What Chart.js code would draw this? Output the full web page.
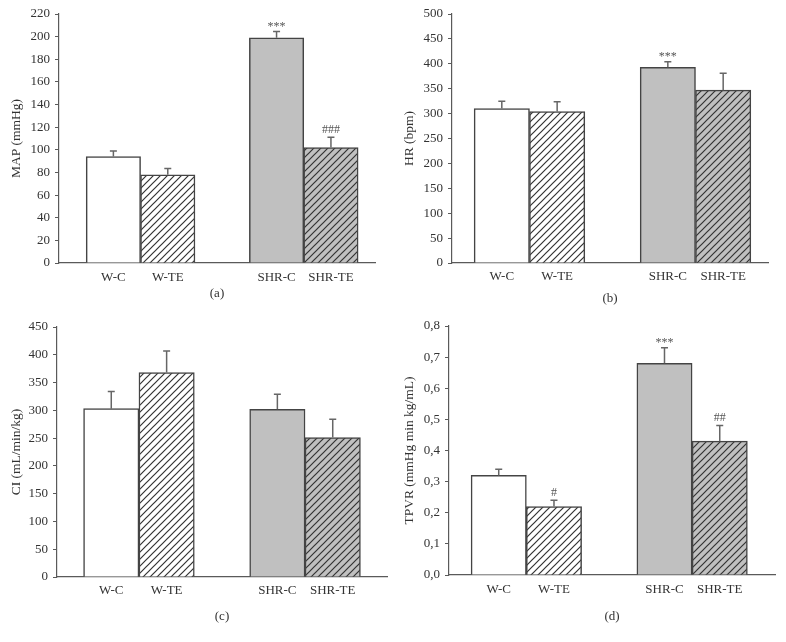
<!DOCTYPE html>
<html>
<head>
<meta charset="utf-8">
<script src="https://cdn.jsdelivr.net/npm/chart.js@4.4.1/dist/chart.umd.min.js"></script>
<style>
	html, body { margin: 0; padding: 0; background: #fff; }
	#wrap { position: relative; width: 786px; height: 642px; }
	#wrap canvas { position: absolute; }
</style>
</head>
<body>
<div id="wrap">
	<canvas id="chartA" width="393" height="321" style="left:0;top:0"></canvas>
	<canvas id="chartB" width="393" height="321" style="left:393px;top:0"></canvas>
	<canvas id="chartC" width="393" height="321" style="left:0;top:321px"></canvas>
	<canvas id="chartD" width="393" height="321" style="left:393px;top:321px"></canvas>
</div>
<script>
'use strict'

const groups = ['W-C', 'W-TE', 'SHR-C', 'SHR-TE'];

const mapValues = [94, 78, 199, 102];
const mapErrors = [5, 5.5, 5.5, 9];
const mapMarks = ['', '', '***', '###'];

const hrValues = [310, 304, 393, 347];
const hrErrors = [15, 20, 11, 34];
const hrMarks = ['', '', '***', ''];

const ciValues = [303, 368, 302, 251];
const ciErrors = [31, 39, 27, 33];
const ciMarks = ['', '', '', ''];

const tpvrValues = [0.32, 0.22, 0.68, 0.43];
const tpvrErrors = [0.02, 0.02, 0.05, 0.05];
const tpvrMarks = ['', '#', '***', '##'];

Chart.defaults.font.family = '"Liberation Serif", "Times New Roman", serif';
Chart.defaults.font.size = 13;
Chart.defaults.color = '#333';

const axisColor = '#5a5a5a';
const edgeColor = '#444';
const grey = '#c0c0c0';

// gap of one bar between the two groups
function slot(i){
	return i < 2 ? i + 1 : i + 2;
}

function hatch(ctx, bg){
	const s = 7;
	const c = document.createElement('canvas');
	c.width = s;
	c.height = s;
	const g = c.getContext('2d');
	g.fillStyle = bg;
	g.fillRect(0, 0, s, s);
	g.strokeStyle = '#333';
	g.lineWidth = 1.2;
	g.beginPath();
	g.moveTo(0, s); g.lineTo(s, 0);
	g.moveTo(-1, 1); g.lineTo(1, -1);
	g.moveTo(s - 1, s + 1); g.lineTo(s + 1, s - 1);
	g.stroke();
	return ctx.createPattern(c, 'repeat');
}

const errorBars = {
	id: 'errorBars',
	afterDatasetsDraw(chart, args, opts){
		const ctx = chart.ctx;
		const yScale = chart.scales.y;
		const meta = chart.getDatasetMeta(0);
		ctx.save();
		meta.data.forEach(function(bar, i){
			const top = yScale.getPixelForValue(opts.values[i] + opts.errors[i]);
			ctx.strokeStyle = '#666';
			ctx.lineWidth = 1.5;
			ctx.beginPath();
			ctx.moveTo(bar.x, bar.y);
			ctx.lineTo(bar.x, top);
			ctx.moveTo(bar.x - 3.5, top);
			ctx.lineTo(bar.x + 3.5, top);
			ctx.stroke();
			const mark = opts.marks[i];
			if(mark){
				ctx.fillStyle = '#555';
				ctx.font = '12px "Liberation Serif", serif';
				ctx.textAlign = 'center';
				ctx.textBaseline = 'alphabetic';
				ctx.fillText(mark, bar.x, top - (mark[0] === '*' ? 2 : 4.5));
			}
		});
		ctx.restore();
	},
};

function makePanel(id, values, errors, marks, p){
	const canvas = document.getElementById(id);
	const ctx = canvas.getContext('2d');
	return new Chart(canvas, {
		type: 'bar',
		data: {
			datasets: [{
				data: values.map((v, i) => ({ x: slot(i), y: v })),
				backgroundColor: ['#fff', hatch(ctx, '#fff'), grey, hatch(ctx, grey)],
				borderColor: edgeColor,
				borderWidth: 1.5,
				barPercentage: 1,
				categoryPercentage: 1,
			}],
		},
		plugins: [errorBars],
		options: {
			responsive: false,
			animation: false,
			devicePixelRatio: 1,
			layout: {
				padding: { left: 0, top: p.top, right: p.right, bottom: 0 },
			},
			plugins: {
				legend: { display: false },
				tooltip: { enabled: false },
				errorBars: { values: values, errors: errors, marks: marks },
			},
			scales: {
				x: {
					type: 'linear',
					offset: false,
					bounds: 'data',
					min: p.xMin,
					max: p.xMax,
					afterBuildTicks: function(scale){
						scale.ticks = groups.map((g, i) => ({ value: slot(i) }));
					},
					afterFit: function(scale){
						scale.height = p.xHeight;
					},
					ticks: {
						autoSkip: false,
						maxRotation: 0,
						padding: p.tickPad,
						callback: (v, i) => groups[i],
					},
					grid: { display: false, drawTicks: false, offset: false },
					border: { color: axisColor, width: 1.2 },
					title: {
						display: true,
						text: p.caption,
						padding: { top: 0, bottom: p.capPad },
					},
				},
				y: {
					min: 0,
					max: p.max,
					afterFit: function(scale){
						scale.width = p.left;
						scale.paddingTop = 0;
						scale.paddingBottom = 0;
					},
					ticks: {
						stepSize: p.step,
						padding: 5,
						callback: p.fmt || (v => v),
					},
					grid: {
						drawOnChartArea: false,
						tickLength: 4,
						color: axisColor,
					},
					border: { color: axisColor, width: 1.2 },
					title: {
						display: true,
						text: p.title,
						font: { size: 13.5 },
						padding: { top: 8, bottom: 0 },
					},
				},
			},
		},
	});
}

makePanel('chartA', mapValues, mapErrors, mapMarks, {
	title: 'MAP (mmHg)', max: 220, step: 20, caption: '(a)',
	xMin: 0, xMax: 5.81, left: 59, top: 14, right: 18, xHeight: 58, tickPad: 7, capPad: 20,
});

makePanel('chartB', hrValues, hrErrors, hrMarks, {
	title: 'HR (bpm)', max: 500, step: 50, caption: '(b)',
	xMin: 0.1, xMax: 5.81, left: 59, top: 14, right: 18, xHeight: 58, tickPad: 6, capPad: 15,
});

makePanel('chartC', ciValues, ciErrors, ciMarks, {
	title: 'CI (mL/min/kg)', max: 450, step: 50, caption: '(c)',
	xMin: 0.02, xMax: 5.98, left: 57, top: 6, right: 6, xHeight: 65, tickPad: 6, capPad: 18,
});

makePanel('chartD', tpvrValues, tpvrErrors, tpvrMarks, {
	title: 'TPVR (mmHg min kg/mL)', max: 0.8, step: 0.1, caption: '(d)',
	xMin: 0.1, xMax: 6.0, left: 56, top: 5, right: 11, xHeight: 67, tickPad: 7, capPad: 18,
	fmt: v => v.toFixed(1).replace('.', ','),
});
</script>
</body>
</html>
